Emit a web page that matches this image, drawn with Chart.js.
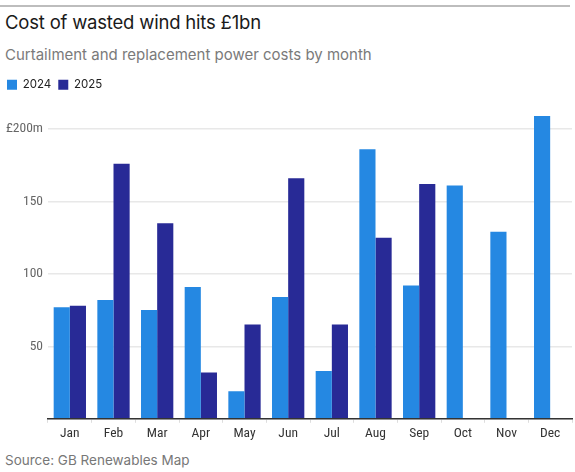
<!DOCTYPE html>
<html>
<head>
<meta charset="utf-8">
<script src="https://cdn.jsdelivr.net/npm/chart.js@4.4.1/dist/chart.umd.min.js"></script>
<style>
  html, body { margin: 0; padding: 0; background: #fff; }
  body { width: 575px; height: 472px; position: relative; overflow: hidden; font-family: Inter, "Noto Sans", sans-serif; }
  .rule { position: absolute; left: 0; top: 5px; width: 570px; height: 0; border-top: 2px solid #bdbdbd; }
  h1 { position: absolute; left: 5px; top: 11px; margin: 0; font-size: 18.5px; font-weight: 400; color: #1a1a1a; letter-spacing: -0.2px; }
  .sub { position: absolute; left: 5px; top: 45px; margin: 0; font-size: 15px; color: #7a7a7a; }
  .src { position: absolute; left: 5px; top: 452px; margin: 0; font-size: 13.5px; color: #777; }
  .wrap { position: absolute; left: 0; top: 72px; width: 575px; height: 373px; }
</style>
</head>
<body>
<div class="rule"></div>
<h1>Cost of wasted wind hits £1bn</h1>
<p class="sub">Curtailment and replacement power costs by month</p>
<div class="wrap"><canvas id="chart"></canvas></div>
<p class="src">Source: GB Renewables Map</p>
<script>
const months = ["Jan", "Feb", "Mar", "Apr", "May", "Jun", "Jul", "Aug", "Sep", "Oct", "Nov", "Dec"];
const costs2024 = [77, 82, 75, 91, 19, 84, 33, 186, 92, 161, 129, 209];
const costs2025 = [78, 176, 135, 32, 65, 166, 65, 125, 162, null, null, null];
const yTicks = [0, 50, 100, 150, 200];

const narrow = '"Roboto Condensed", "Liberation Sans Narrow", Roboto, sans-serif';

// push the plot down a bit below the legend
const legendGap = {
  id: "legendGap",
  beforeInit(chart) {
    const fit = chart.legend.fit;
    chart.legend.fit = function () {
      fit.call(this);
      this.height += 14;
    };
  },
};

const ctx = document.getElementById("chart").getContext("2d");
const chart = new Chart(ctx, {
  type: "bar",
  data: {
    labels: months,
    datasets: [
      { label: "2024", data: costs2024, backgroundColor: "#2588e2" },
      { label: "2025", data: costs2025, backgroundColor: "#282a96" },
    ],
  },
  plugins: [legendGap],
  options: {
    responsive: true,
    maintainAspectRatio: false,
    animation: false,
    layout: { padding: { left: 0, right: 3, top: 0, bottom: 0 } },
    datasets: { bar: { categoryPercentage: 0.74, barPercentage: 1 } },
    plugins: {
      tooltip: { enabled: false },
      legend: {
        align: "start",
        labels: {
          boxWidth: 10,
          boxHeight: 10,
          padding: 7,
          color: "#222",
          font: { family: "Inter, sans-serif", size: 11.5 },
        },
      },
    },
    scales: {
      x: {
        grid: { display: true, drawOnChartArea: false, tickLength: 4, color: "#dddddd" },
        border: { color: "#333", width: 1.5 },
        ticks: { color: "#333", font: { family: narrow, size: 13.5 }, padding: 3 },
      },
      y: {
        min: 0,
        max: 210,
        afterBuildTicks: (axis) => { axis.ticks = yTicks.map((v) => ({ value: v })); },
        afterFit: (axis) => { axis.width = 48; },
        grid: { color: "#e8e8e8", lineWidth: 1.5, drawTicks: false },
        border: { display: false },
        ticks: {
          padding: 5,
          color: "#666",
          font: { family: narrow, size: 13.5 },
          callback: (v) => (v === 0 ? "" : v === 200 ? "£200m" : v),
        },
      },
    },
  },
});
</script>
</body>
</html>
